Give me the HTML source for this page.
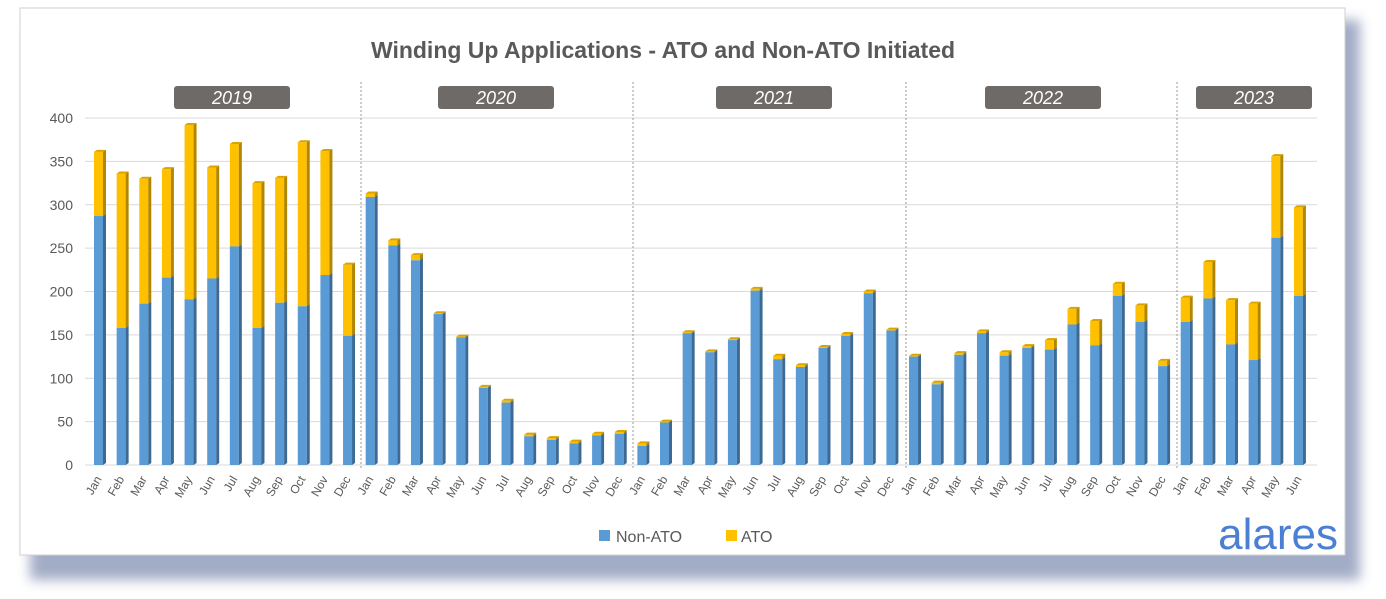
<!DOCTYPE html>
<html><head><meta charset="utf-8"><style>
html,body{margin:0;padding:0;background:#fff;width:1386px;height:599px;overflow:hidden}
svg{display:block;font-family:"Liberation Sans",sans-serif}
</style></head><body>
<svg id="c" width="1386" height="599" xmlns="http://www.w3.org/2000/svg">
<defs>
<filter id="sh" x="-5%" y="-5%" width="115%" height="125%"><feGaussianBlur stdDeviation="6"/></filter>
</defs>
<rect x="30" y="20" width="1330" height="560" fill="#8a98b8" filter="url(#sh)" opacity="0.8"/>
<rect x="20" y="8" width="1325" height="547" fill="#fff" stroke="#d0d0d0"/>
<text x="663" y="58" text-anchor="middle" font-size="23" font-weight="bold" fill="#595959">Winding Up Applications - ATO and Non-ATO Initiated</text>
<g id="g"></g>
<rect x="599" y="530" width="11" height="11" fill="#5b9bd5"/>
<text x="616" y="542" font-size="16" fill="#595959">Non-ATO</text>
<rect x="726" y="530" width="11" height="11" fill="#ffc000"/>
<text x="741" y="542" font-size="16" fill="#595959">ATO</text>
<text x="1338" y="549" text-anchor="end" font-size="44" fill="#4a7fd4">alares</text>
</svg>
<script>
const d=[[287,361],[158,336],[186,330],[216,341],[191,392],[215,343],[252,370],[158,325],[187,331],[183,372],[219,362],[149,231],
[309,313],[253,259],[236,242],[174,175],[147,148],[89,90],[72,74],[33,35],[29,31],[25,27],[34,36],[36,38],
[22,25],[49,50],[152,153],[130,131],[144,145],[201,203],[122,126],[113,115],[135,136],[149,151],[198,200],[155,156],
[125,126],[93,95],[127,129],[152,154],[126,130],[135,137],[133,144],[162,180],[138,166],[195,209],[165,184],[114,120],
[165,193],[192,234],[139,190],[121,186],[262,356],[195,297]];
const m=["Jan","Feb","Mar","Apr","May","Jun","Jul","Aug","Sep","Oct","Nov","Dec"];
const Y=v=>465-v*0.8675;let s="";
for(let i=0;i<=8;i++){const y=Y(i*50);s+=`<line x1="85" x2="1317" y1="${y}" y2="${y}" stroke="#d9d9d9"/><text x="73" y="${y+5}" text-anchor="end" font-size="14" fill="#595959">${i*50}</text>`;}
[361,633,906,1177].forEach(x=>s+=`<line x1="${x}" x2="${x}" y1="82" y2="470" stroke="#999" stroke-dasharray="2,2"/>`);
[[174,"2019"],[438,"2020"],[716,"2021"],[985,"2022"],[1196,"2023"]].forEach(([x,t])=>s+=`<rect x="${x}" y="86" width="116" height="23" rx="3" fill="#6e6a68"/><text x="${x+58}" y="104" text-anchor="middle" font-size="18" font-style="italic" fill="#fff">${t}</text>`);
d.forEach(([a,t],i)=>{const c=99+i*22.64,x=c-5,w=9;
const yb=Y(a),yt=Y(t);
s+=`<rect x="${x}" y="${yt}" width="${w}" height="${yb-yt}" fill="#ffc000"/><polygon points="${x+w},${yt} ${x+w+3},${yt-2} ${x+w+3},${yb-2} ${x+w},${yb}" fill="#b38600"/><polygon points="${x},${yt} ${x+3},${yt-2} ${x+w+3},${yt-2} ${x+w},${yt}" fill="#d9a300"/>`;
s+=`<rect x="${x}" y="${yb}" width="${w}" height="${465-yb}" fill="#5b9bd5"/><polygon points="${x+w},${yb} ${x+w+3},${yb-2} ${x+w+3},463 ${x+w},465" fill="#3c6a94"/>`;
s+=`<text transform="translate(${c+3},479) rotate(-60)" text-anchor="end" font-size="12" fill="#595959">${m[i%12]}</text>`;});
document.getElementById("g").innerHTML=s;
</script>
</body></html>
